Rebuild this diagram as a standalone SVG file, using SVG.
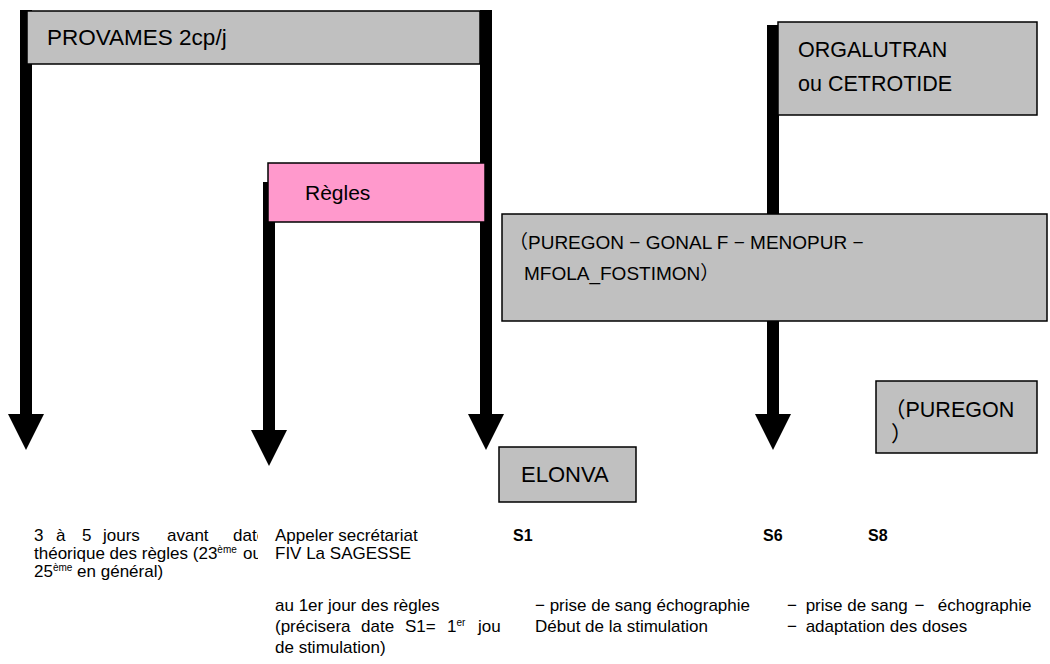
<svg xmlns="http://www.w3.org/2000/svg" width="1050" height="664" viewBox="0 0 1050 664">
  <defs>
    <marker id="head" markerUnits="userSpaceOnUse" markerWidth="38" markerHeight="38" viewBox="0 -19 37 38" refX="0" refY="0" orient="auto">
      <path d="M0,-18 L36,0 L0,18 Z" fill="#000"/>
    </marker>
    <clipPath id="col1"><rect x="0" y="520" width="258" height="80"/></clipPath>
    <clipPath id="col2"><rect x="270" y="600" width="231" height="64"/></clipPath>
  </defs>
  <style>
    .bar { stroke: #000; stroke-width: 12; fill: none; marker-end: url(#head); }
    .box { fill: #c0c0c0; stroke: #000; stroke-width: 1.5; }
    .pink { fill: #ff99cc; stroke: #000; stroke-width: 1.5; }
    .t { font-family: "Liberation Sans", "Noto Sans CJK JP", sans-serif; font-size: 21.5px; fill: #000; }
    .s { font-family: "Liberation Sans", "Noto Sans CJK JP", sans-serif; font-size: 17px; fill: #000; }
    .b { font-family: "Liberation Sans", sans-serif; font-size: 16px; font-weight: bold; fill: #000; }
    .sup { font-size: 10px; }
  </style>

  <g id="connectors">
    <line class="bar" x1="26" y1="10" x2="26" y2="414"/>
    <line class="bar" x1="486" y1="10" x2="486" y2="414"/>
    <line class="bar" x1="269" y1="182" x2="269" y2="430"/>
    <line class="bar" x1="773" y1="25" x2="773" y2="414"/>
  </g>

  <g id="provames">
    <rect class="box" x="27" y="11" width="453" height="53"/>
    <text class="t" x="47" y="45" style="font-size:22.5px">PROVAMES 2cp/j</text>
  </g>

  <g id="regles">
    <rect class="pink" x="268" y="163" width="217" height="59"/>
    <text class="t" x="305" y="200" style="font-size:21px">Règles</text>
  </g>

  <g id="orgalutran">
    <rect class="box" x="778" y="22" width="259" height="93"/>
    <text class="t" x="798" y="57">ORGALUTRAN</text>
    <text class="t" x="798" y="91">ou CETROTIDE</text>
  </g>

  <g id="stimulation">
    <rect class="box" x="502" y="214" width="545" height="107"/>
    <text class="t" x="509" y="249" style="font-size:19px">（PUREGON − GONAL F − MENOPUR −</text>
    <text class="t" x="524" y="280" style="font-size:19px">MFOLA_FOSTIMON）</text>
  </g>

  <g id="elonva">
    <rect class="box" x="499" y="447" width="137" height="55"/>
    <text class="t" x="521" y="482" style="font-size:22px">ELONVA</text>
  </g>

  <g id="puregon">
    <rect class="box" x="876" y="381" width="161" height="72"/>
    <text class="t" x="884" y="417">（PUREGON</text>
    <text class="t" x="891" y="441">）</text>
  </g>

  <g id="col1-text">
    <g clip-path="url(#col1)">
      <text class="s" y="541"><tspan x="34">3</tspan><tspan x="56">à</tspan><tspan x="82">5</tspan><tspan x="103">jours</tspan><tspan x="167">avant</tspan><tspan x="233">date</tspan></text>
      <text class="s" x="34" y="559">théorique des règles (23<tspan class="sup" dy="-6">ème</tspan><tspan dy="6" x="243">ou</tspan></text>
    </g>
    <text class="s" x="34" y="577">25<tspan class="sup" dy="-6">ème</tspan><tspan dy="6"> en général)</tspan></text>
  </g>

  <g id="col2-text">
    <text class="s" x="275" y="541">Appeler secrétariat</text>
    <text class="s" x="275" y="559">FIV La SAGESSE</text>
    <text class="s" x="275" y="611">au 1er jour des règles</text>
    <g clip-path="url(#col2)">
      <text class="s" y="632"><tspan x="275">(précisera</tspan><tspan x="361">date</tspan><tspan x="405">S1=</tspan><tspan x="447">1</tspan><tspan class="sup" dy="-6">er</tspan><tspan dy="6" x="478">jour</tspan></text>
    </g>
    <text class="s" x="275" y="653">de stimulation)</text>
  </g>

  <g id="col3-text">
    <text class="b" x="513" y="541">S1</text>
    <text class="s" x="535" y="611">− prise de sang échographie</text>
    <text class="s" x="535" y="632">Début de la stimulation</text>
  </g>

  <g id="col4-text">
    <text class="b" x="763" y="541">S6</text>
    <text class="b" x="868" y="541">S8</text>
    <text class="s" x="787" y="611">−<tspan dx="4"> prise de sang </tspan><tspan dx="2">−</tspan><tspan dx="4">&#160; échographie</tspan></text>
    <text class="s" x="787" y="632">−<tspan dx="4"> adaptation des doses</tspan></text>
  </g>
</svg>
